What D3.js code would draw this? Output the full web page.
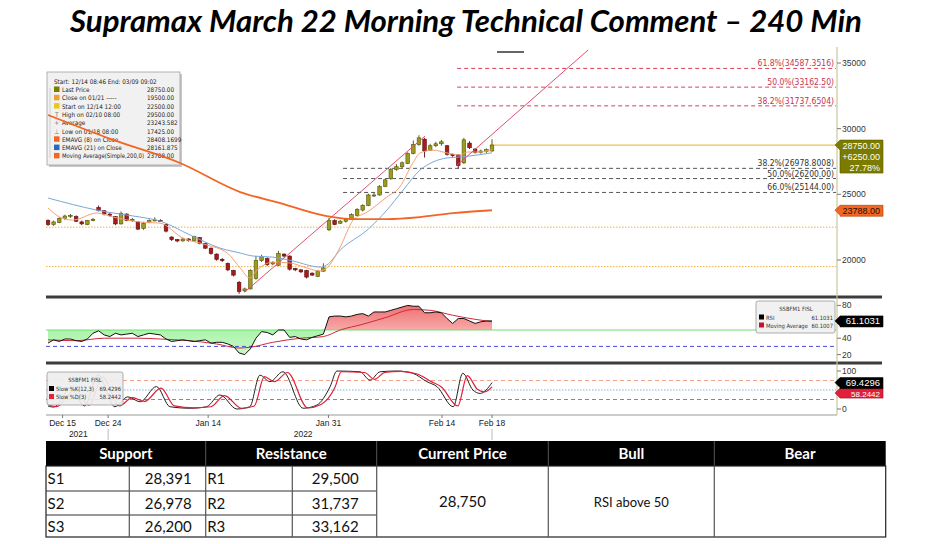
<!DOCTYPE html>
<html>
<head>
<meta charset="utf-8">
<script src="https://cdn.jsdelivr.net/npm/d3@7"></script>
<style>
  body { margin: 0; background: #fff; }
  svg { display: block; }
</style>
</head>
<body>
<svg id="chart" width="938" height="544"></svg>
<script>
// ---- data ----
const titleText = 'Supramax March 22 Morning Technical Comment \u2013 240 Min';

// 240 min candles, Dec 14 -> Feb 18
const open  = [23000,22700,22850,23150,23350,23300,22900,22700,23000,24000,23750,23500,23300,22750,23500,23000,22900,22400,22850,23000,
               23000,22700,21750,21550,21450,21600,21450,21700,21250,20900,20450,20050,19750,19200,18300,17650,17800,18600,19950,20100,
               19700,19600,20450,20300,19350,19250,19200,19000,18750,19150,22300,23000,22800,22950,23100,23400,23800,24150,24900,24950,
               25600,26200,26900,27100,27350,28100,28800,29200,28350,28700,28850,28700,28050,28000,27400,28900,28450,28200,28250,28300];
const high  = [23100,23000,23250,23450,23500,23400,23000,23050,23200,24150,23800,23550,23350,23700,23550,23200,22950,22900,23100,23250,
               23100,22750,21800,21600,21700,21650,21850,21750,21300,20950,20500,20150,19800,19250,18400,17900,19300,20300,20400,20200,
               19900,20700,20500,20350,19400,19300,19250,19050,19250,19750,23200,23100,23050,23200,23550,23950,24250,25050,25100,25700,
               26200,27000,27300,27500,28200,29100,29500,29300,28850,29000,29150,28750,28100,28050,29300,29050,28500,28400,28500,29200];
const low   = [22600,22600,22800,23050,23200,22900,22650,22650,22950,23700,23400,23300,22650,22700,22950,22900,22300,22300,22800,22950,
               22900,22100,21450,21350,21400,21400,21400,21200,20850,20400,19950,19850,19150,18750,17425,17550,17750,18500,19850,19550,
               19600,19550,20200,19200,19150,19000,18600,18800,18700,19100,22200,22650,22750,22850,23050,23350,23700,24100,24800,24900,
               25550,26100,26800,27000,27300,28050,28700,27800,28300,28600,28700,27950,27850,27000,27300,28450,28100,28100,28150,28250];
const close = [22700,22900,23150,23350,23400,22950,22750,23000,23100,23750,23500,23400,22750,23550,23000,23100,22350,22800,23000,23050,
               22950,22200,21550,21450,21600,21500,21800,21250,20900,20500,20050,19950,19250,18850,17600,17800,19200,19950,20250,19650,
               19800,20500,20300,19300,19250,19100,18700,18850,19150,19400,23000,22700,22950,23100,23450,23850,24150,24950,24950,25600,
               26100,26900,27100,27400,28100,28800,29300,28300,28700,28850,29000,28050,27950,27200,29150,28550,28200,28300,28400,28750];

// moving averages as [bar, value]
const ema8Pts = [[0,23960],[2.1,23270],[4.4,23040],[8.7,23580],[11.6,23270],[16.4,22890],[19.9,22810],[24,21670],[28.3,21140],
                 [31.9,20530],[34.2,19390],[35.9,18630],[37.2,19230],[40,19840],[43.1,19770],[46.1,19390],[48.4,19160],[49.6,19390],
                 [52,20990],[54.3,23040],[56.8,23650],[60.3,24800],[62.6,25560],[64.9,27380],[66.2,28150],[68.5,28370],[71,28150],
                 [73.3,27990],[74.6,28220],[76.9,28220],[79,28408]];
const ema21Pts = [[0,24720],[8.7,23800],[10.5,23650],[16.4,23270],[19.9,22970],[25.3,21900],[30.6,20910],[34.2,20530],[36.5,20300],
                  [40,20220],[43.6,19920],[48.4,19460],[49.6,19620],[52,20760],[57,22360],[60.3,23800],[63.2,25330],[66.2,26850],
                  [68.5,27460],[71,27770],[73.3,27840],[76.3,27990],[79,28162]];
const sma200Pts = [[0,31040],[11.6,29140],[23.5,27384],[34.2,25175],[41.3,24338],[49.6,23347],[54.3,23119],[60.3,23119],
                   [66.2,23271],[72.1,23576],[79,23788]];

// trend channel lines [bar, price]
const trendUpper = [[35,17560],[67.1,29440]];
const trendLower = [[72.8,27230],[96.1,35990]];

// retracement levels
const fibRedValues = [34587.3516, 33162.50, 31737.6504];
const fibRedLabels = ['61.8%(34587.3516)', '50.0%(33162.50)', '38.2%(31737.6504)'];
const fibRedStart = 72.8;
const fibGrayValues = [26978.8008, 26200.00, 25144.00];
const fibGrayLabels = ['38.2%(26978.8008)', '50.0%(26200.00)', '66.0%(25144.00)'];
const fibGrayStart = 52.5;
const refLevels = [22500, 19500];
const lastPrice = 28750;
const lastPriceStart = 78.6;
const priceTicks = [20000, 25000, 30000, 35000];

// legend
const legendHeader = 'Start: 12/14 08:46 End: 03/09 09:02';
const legendLabels = ['Last Price', 'Close on 01/21 -----', 'Start on 12/14 12:00', 'High on 02/10 08:00', 'Average',
                      'Low on 01/18 08:00', 'EMAVG (8)  on Close', 'EMAVG (21)  on Close', 'Moving Average(Simple,200,0)'];
const legendValues = ['28750.00', '19500.00', '22500.00', '29500.00', '23243.582', '17425.00', '28408.1699', '28161.875', '23788.00'];
const legendColors = ['#7b7b00', '#f0a030', '#e8c820', null, null, null, '#f26522', '#2a6ab8', '#f26522'];
const legendIcons  = ['', '', '', 'T', '+', '\u22A5', '', '', ''];

// RSI per bar
const rsiValues = [34,38,36,39,39,37,36,39,46,49,44,42,46,44,45,46,42,44,46,45,
                   44,39,36,37,38,37,36,37,38,34,35,35,33,30,22,20,27,40,48,47,
                   44,50,50,41,42,39,38,41,43,45,66,67,67,66,67,69,70,67,72,72,
                   72,74,76,78,80,79,79,71,71,72,71,64,58,64,64,61,58,60,61,61.1];
const rsiMaPts = [[0,38],[5,37],[10,40],[16,40],[20,39],[25,37],[30,33],[34,28],[36,29],[40,35],[45,40],[49,42],
                  [52,50],[56,57],[60,65],[65,75],[68,74],[72,68],[76,63],[79,60.1]];
const rsiTicks = [20, 40, 80];

// slow stochastics [bar, value]
const stochK = [[0,8],[1,5],[4,55],[6.5,8],[8.9,90],[11.9,6],[14.2,32],[16.4,19],[19.3,59],[21.7,6],[25.3,2],[28.2,6],
                [30.6,37],[33.6,0],[35.9,6],[37.7,89],[39.5,72],[41.8,98],[45.4,2],[47.8,10],[50.2,59],[51.4,100],[55.5,98],
                [57.3,76],[59.1,98],[62,100],[64.9,94],[67.4,72],[69.2,59],[72.1,6],[73.8,94],[75.6,50],[76.9,41],[79,69.4]];
const stochD = [[0,12],[1.5,6],[4.8,50],[7.3,10],[9.7,85],[12.7,8],[15,30],[17.2,20],[20.1,55],[22.5,8],[26,3],[29,6],
                [31.4,35],[34.4,2],[36.7,8],[38.5,85],[40.3,72],[42.6,96],[46.2,3],[48.6,12],[51,55],[52.2,98],[56.3,96],
                [58.1,78],[59.9,96],[62.8,99],[65.7,92],[68.2,72],[70,58],[72.9,8],[74.6,88],[76.4,52],[77.7,45],[79,58.2]];
const stochTicks = [0, 100];

// date axis
const dateTicks  = [2.6, 10.7, 28.5, 49.9, 70.1, 79];
const dateLabels = ['Dec 15', 'Dec 24', 'Jan 14', 'Jan 31', 'Feb 14', 'Feb 18'];
const yearTicks  = [5.4, 45.4];
const yearLabels = ['2021', '2022'];

// table
const tableHeaders = ['Support', 'Resistance', 'Current Price', 'Bull', 'Bear'];
const supportLabels = ['S1', 'S2', 'S3'];
const supportValues = ['28,391', '26,978', '26,200'];
const resistanceLabels = ['R1', 'R2', 'R3'];
const resistanceValues = ['29,500', '31,737', '33,162'];
const currentPrice = '28,750';
const bullText = 'RSI above 50';
const bearText = '';

// ---- drawing ----
const svg = d3.select('#chart');
svg.append('rect').attr('width', 938).attr('height', 544).attr('fill', '#fff');

const plotLeft = 46, plotRight = 836;
const x = d3.scaleLinear().domain([0, 79]).range([48, 492]);
const yMain = d3.scaleLinear().domain([20000, 35000]).range([260, 63]);
const yRsi = d3.scaleLinear().domain([20, 80]).range([354.6, 305.4]);
const yStoch = d3.scaleLinear().domain([0, 100]).range([409, 371]);

const smallFont = "'DejaVu Sans Condensed','DejaVu Sans',sans-serif";
const axisFont = "'Liberation Sans',Arial,sans-serif";
const tableFont = "Lato,'Open Sans',sans-serif";

const defs = svg.append('defs');
function clip(id, y0, y1) {
  defs.append('clipPath').attr('id', id).append('rect')
    .attr('x', plotLeft).attr('y', y0).attr('width', plotRight - plotLeft).attr('height', y1 - y0);
}
clip('clipMain', 45, 295);
clip('clipRsi', 299, 361);
clip('clipStoch', 365, 414);
clip('clipRsiUp', 299, yRsi(50));
clip('clipRsiDown', yRsi(50), 361);

let gradPink = defs.append('linearGradient').attr('id', 'gPink').attr('x1', 0).attr('x2', 0).attr('y1', 0).attr('y2', 1);
gradPink.append('stop').attr('offset', '0%').attr('stop-color', '#f07070');
gradPink.append('stop').attr('offset', '100%').attr('stop-color', '#fde4e4');
let gradGreen = defs.append('linearGradient').attr('id', 'gGreen').attr('x1', 0).attr('x2', 0).attr('y1', 0).attr('y2', 1);
gradGreen.append('stop').attr('offset', '0%').attr('stop-color', '#8ef08e');
gradGreen.append('stop').attr('offset', '100%').attr('stop-color', '#c8f8c8');

// title, stretched to the width it has in the picture
let title = svg.append('text').attr('x', 466).attr('y', 32).attr('text-anchor', 'middle')
  .style('font-family', tableFont).style('font-weight', 'bold').style('font-style', 'italic')
  .style('font-size', '29px').attr('fill', '#000').text(titleText);
let tw = title.node().getComputedTextLength();
title.style('font-size', (29 * 792 / tw) + 'px');

// small grey mark over the chart
svg.append('line').attr('x1', 497).attr('x2', 524).attr('y1', 52).attr('y2', 52)
  .attr('stroke', '#666').attr('stroke-width', 2);

// ---- main price panel ----
let main = svg.append('g').attr('clip-path', 'url(#clipMain)');

refLevels.forEach((v) => {
  main.append('line').attr('x1', plotLeft).attr('x2', plotRight).attr('y1', yMain(v)).attr('y2', yMain(v))
    .attr('stroke', '#f2b04a').attr('stroke-width', 1).attr('stroke-dasharray', '1.5,1.5');
});

fibRedValues.forEach((v, i) => {
  main.append('line').attr('x1', x(fibRedStart)).attr('x2', plotRight).attr('y1', yMain(v)).attr('y2', yMain(v))
    .attr('stroke', '#d9405a').attr('stroke-dasharray', '4,3');
  main.append('text').attr('x', plotRight - 2).attr('y', yMain(v) - 2).attr('text-anchor', 'end')
    .style('font-family', smallFont).style('font-size', '8.5px').attr('fill', '#c8324e').text(fibRedLabels[i]);
});
fibGrayValues.forEach((v, i) => {
  main.append('line').attr('x1', x(fibGrayStart)).attr('x2', plotRight).attr('y1', yMain(v)).attr('y2', yMain(v))
    .attr('stroke', '#555').attr('stroke-dasharray', '4,3');
  main.append('text').attr('x', plotRight - 2).attr('y', yMain(v) - 2).attr('text-anchor', 'end')
    .style('font-family', smallFont).style('font-size', '8.5px').attr('fill', '#333').text(fibGrayLabels[i]);
});

main.append('line').attr('x1', x(lastPriceStart)).attr('x2', plotRight)
  .attr('y1', yMain(lastPrice)).attr('y2', yMain(lastPrice)).attr('stroke', '#f0c24a').attr('stroke-width', 1.2);

// legend box (the 200 MA runs over it)
let lg = main.append('g');
lg.append('rect').attr('x', 49).attr('y', 74).attr('width', 133).attr('height', 93).attr('fill', '#c8c8c8');
lg.append('rect').attr('x', 47).attr('y', 72).attr('width', 133).attr('height', 93)
  .attr('fill', '#f1f1f1').attr('stroke', '#a0a0a0').attr('stroke-width', 0.8);
lg.append('text').attr('x', 54).attr('y', 84).style('font-family', smallFont).style('font-size', '6.3px')
  .attr('fill', '#222').text(legendHeader);
lg.append('line').attr('x1', 50).attr('x2', 50).attr('y1', 88).attr('y2', 158).attr('stroke', '#bbb').attr('stroke-width', 0.6);
legendLabels.forEach((lab, i) => {
  let ry = 92 + i * 8.3;
  if (legendColors[i]) {
    lg.append('rect').attr('x', 54).attr('y', ry - 5.5).attr('width', 5.5).attr('height', 5.5).attr('fill', legendColors[i]);
  } else {
    lg.append('text').attr('x', 56.7).attr('y', ry).attr('text-anchor', 'middle').style('font-family', smallFont)
      .style('font-size', '6.5px').attr('fill', '#777').text(legendIcons[i]);
  }
  let t = lg.append('text').attr('x', 62).attr('y', ry).style('font-family', smallFont).style('font-size', '6.3px')
    .attr('fill', '#222').text(lab);
  // keep the long label clear of its value
  if (t.node().getComputedTextLength() > 82) t.attr('textLength', 82).attr('lengthAdjust', 'spacingAndGlyphs');
  lg.append('text').attr('x', 147).attr('y', ry).style('font-family', smallFont).style('font-size', '6.3px')
    .attr('fill', '#222').text(legendValues[i]);
});

// candles
let candles = main.append('g');
open.forEach((o, i) => {
  let c = close[i];
  let up = c >= o;
  candles.append('line').attr('x1', x(i)).attr('x2', x(i)).attr('y1', yMain(high[i])).attr('y2', yMain(low[i]))
    .attr('stroke', up ? '#4a4a00' : '#5a0a0a').attr('stroke-width', 0.9);
  candles.append('rect').attr('x', x(i) - 1.8).attr('width', 3.6)
    .attr('y', yMain(Math.max(o, c))).attr('height', Math.max(1, Math.abs(yMain(o) - yMain(c))))
    .attr('fill', up ? '#9c9c1e' : '#a51c1c').attr('stroke', up ? '#55550a' : '#5e0c0c').attr('stroke-width', 0.6);
});

let ptLine = d3.line().x((d) => x(d[0])).y((d) => yMain(d[1])).curve(d3.curveMonotoneX);
main.append('path').attr('d', ptLine(ema21Pts)).attr('fill', 'none').attr('stroke', '#7aa7d8').attr('stroke-width', 1);
main.append('path').attr('d', ptLine(ema8Pts)).attr('fill', 'none').attr('stroke', '#f3a174').attr('stroke-width', 1);
main.append('path').attr('d', ptLine(sma200Pts)).attr('fill', 'none').attr('stroke', '#f26522').attr('stroke-width', 1.8);

let straight = d3.line().x((d) => x(d[0])).y((d) => yMain(d[1]));
[trendUpper, trendLower].forEach((t) => {
  main.append('path').attr('d', straight(t)).attr('fill', 'none').attr('stroke', '#e0506e').attr('stroke-width', 1);
});

// ---- RSI panel ----
let rsiArea = d3.area().x((d, i) => x(i)).y0(yRsi(50)).y1((d) => yRsi(d)).curve(d3.curveLinear);
svg.append('g').attr('clip-path', 'url(#clipRsiUp)').append('path').attr('d', rsiArea(rsiValues)).attr('fill', 'url(#gPink)');
svg.append('g').attr('clip-path', 'url(#clipRsiDown)').append('path').attr('d', rsiArea(rsiValues)).attr('fill', 'url(#gGreen)');

let rsiG = svg.append('g').attr('clip-path', 'url(#clipRsi)');
rsiG.append('line').attr('x1', plotLeft).attr('x2', plotRight).attr('y1', yRsi(50)).attr('y2', yRsi(50))
  .attr('stroke', '#70e070').attr('stroke-width', 1.2);
rsiG.append('line').attr('x1', plotLeft).attr('x2', plotRight).attr('y1', yRsi(30)).attr('y2', yRsi(30))
  .attr('stroke', '#4a4ad8').attr('stroke-width', 1).attr('stroke-dasharray', '4,3');
let rsiLine = d3.line().x((d, i) => x(i)).y((d) => yRsi(d));
let rsiMaLine = d3.line().x((d) => x(d[0])).y((d) => yRsi(d[1])).curve(d3.curveMonotoneX);
rsiG.append('path').attr('d', rsiMaLine(rsiMaPts)).attr('fill', 'none').attr('stroke', '#d0283a').attr('stroke-width', 1);
rsiG.append('path').attr('d', rsiLine(rsiValues)).attr('fill', 'none').attr('stroke', '#111').attr('stroke-width', 1);

// RSI legend
let rl = svg.append('g');
rl.append('rect').attr('x', 756).attr('y', 301).attr('width', 79).attr('height', 32).attr('rx', 2)
  .attr('fill', '#f1f1f1').attr('stroke', '#999').attr('stroke-width', 0.8);
rl.append('text').attr('x', 796).attr('y', 311).attr('text-anchor', 'middle').style('font-family', smallFont)
  .style('font-size', '5.8px').attr('fill', '#333').text('SSBFM1 FISL');
[['RSI', '61.1031', '#000'], ['Moving Average', '60.1007', '#c8102e']].forEach((r, i) => {
  let ry = 319.5 + i * 8;
  rl.append('rect').attr('x', 759).attr('y', ry - 5).attr('width', 5).attr('height', 5).attr('fill', r[2]);
  rl.append('text').attr('x', 766).attr('y', ry).style('font-family', smallFont).style('font-size', '5.8px').attr('fill', '#333').text(r[0]);
  rl.append('text').attr('x', 833).attr('y', ry).attr('text-anchor', 'end').style('font-family', smallFont)
    .style('font-size', '5.8px').attr('fill', '#333').text(r[1]);
});

// ---- stochastics panel ----
let stG = svg.append('g').attr('clip-path', 'url(#clipStoch)');
[[75, '#f2a488', '4,3'], [50, '#7fb8c8', '1.5,1.5'], [25, '#4fa878', '4,3']].forEach((l) => {
  stG.append('line').attr('x1', plotLeft).attr('x2', plotRight).attr('y1', yStoch(l[0])).attr('y2', yStoch(l[0]))
    .attr('stroke', l[1]).attr('stroke-dasharray', l[2]);
});
let stLine = d3.line().x((d) => x(d[0])).y((d) => yStoch(d[1])).curve(d3.curveMonotoneX);
stG.append('path').attr('d', stLine(stochK)).attr('fill', 'none').attr('stroke', '#222').attr('stroke-width', 1);
stG.append('path').attr('d', stLine(stochD)).attr('fill', 'none').attr('stroke', '#e0203a').attr('stroke-width', 1.2);

let sl = svg.append('g');
sl.append('rect').attr('x', 47).attr('y', 372).attr('width', 76).attr('height', 33).attr('rx', 2)
  .attr('fill', '#eeeeee').attr('fill-opacity', 0.92).attr('stroke', '#999').attr('stroke-width', 0.8);
sl.append('text').attr('x', 85).attr('y', 382).attr('text-anchor', 'middle').style('font-family', smallFont)
  .style('font-size', '5.8px').attr('fill', '#333').text('SSBFM1 FISL');
[['Slow %K(12,3)', '69.4296', '#000'], ['Slow %D(3)', '58.2442', '#e8203a']].forEach((r, i) => {
  let ry = 391 + i * 8;
  sl.append('rect').attr('x', 49).attr('y', ry - 5).attr('width', 5).attr('height', 5).attr('fill', r[2]);
  sl.append('text').attr('x', 56).attr('y', ry).style('font-family', smallFont).style('font-size', '5.8px').attr('fill', '#333').text(r[0]);
  sl.append('text').attr('x', 121).attr('y', ry).attr('text-anchor', 'end').style('font-family', smallFont)
    .style('font-size', '5.8px').attr('fill', '#333').text(r[1]);
});

// ---- frames and axes ----
[297, 363].forEach((yy) => {
  svg.append('line').attr('x1', plotLeft).attr('x2', 882).attr('y1', yy).attr('y2', yy)
    .attr('stroke', '#3c3c3c').attr('stroke-width', 3);
});
svg.append('line').attr('x1', plotLeft).attr('x2', 837).attr('y1', 415).attr('y2', 415).attr('stroke', '#999').attr('stroke-width', 1);
svg.append('line').attr('x1', 837).attr('x2', 837).attr('y1', 47).attr('y2', 415).attr('stroke', '#c8c89a').attr('stroke-width', 1.2);

function rightTicks(vals, scale) {
  vals.forEach((v) => {
    svg.append('line').attr('x1', 837).attr('x2', 841).attr('y1', scale(v)).attr('y2', scale(v)).attr('stroke', '#777');
    svg.append('text').attr('x', 842).attr('y', scale(v) + 3).style('font-family', axisFont).style('font-size', '8.5px')
      .attr('fill', '#333').text(v);
  });
}
rightTicks(priceTicks, yMain);
rightTicks(rsiTicks, yRsi);
rightTicks(stochTicks, yStoch);

// value tags on the right
function tag(yc, h, fill, stroke, lines, color, size) {
  let top = yc - 5, bottom = top + h;
  svg.append('path')
    .attr('d', `M835,${yc} L840,${top} L883,${top} L883,${bottom} L840,${bottom} L840,${yc + 5} Z`)
    .attr('fill', fill).attr('stroke', stroke).attr('stroke-width', 0.6);
  lines.forEach((t, i) => {
    svg.append('text').attr('x', 880).attr('y', top + 8.5 + i * 11).attr('text-anchor', 'end')
      .style('font-family', axisFont).style('font-size', size).attr('fill', color).text(t);
  });
}
tag(yMain(lastPrice), 33, '#7b7b00', '#5a5a00', ['28750.00', '+6250.00', '27.78%'], '#fff', '9px');
tag(yMain(23788), 11, '#f26522', '#a33c0c', ['23788.00'], '#2a1000', '9px');
tag(yRsi(61.1031), 11, '#000', '#000', ['61.1031'], '#fff', '9.5px');
// %D tag sits just under the %K tag so both stay readable
tag(yStoch(69.4296) + 10.5, 10, '#e0203a', '#a01020', ['58.2442'], '#fff', '8px');
tag(yStoch(69.4296), 11, '#000', '#000', ['69.4296'], '#fff', '9.5px');

// date axis
dateTicks.forEach((t, i) => {
  svg.append('line').attr('x1', x(t)).attr('x2', x(t)).attr('y1', 415).attr('y2', 418).attr('stroke', '#777');
  svg.append('text').attr('x', x(t)).attr('y', 426).attr('text-anchor', 'middle').style('font-family', axisFont)
    .style('font-size', '8.5px').attr('fill', '#222').text(dateLabels[i]);
});
yearTicks.forEach((t, i) => {
  svg.append('text').attr('x', x(t)).attr('y', 437).attr('text-anchor', 'middle').style('font-family', axisFont)
    .style('font-size', '8.5px').attr('fill', '#222').text(yearLabels[i]);
});
[10.7, 79].forEach((t) => {
  svg.append('line').attr('x1', x(t)).attr('x2', x(t)).attr('y1', 429).attr('y2', 440).attr('stroke', '#bbb');
});

// ---- table ----
const colX = [46, 129.3, 205.7, 292.3, 376.7, 548.3, 714.3, 885.7];
const rowY = [441, 466, 491, 515, 537];
let tb = svg.append('g').style('font-family', tableFont);
tb.append('rect').attr('x', colX[0]).attr('y', rowY[0]).attr('width', colX[7] - colX[0]).attr('height', rowY[1] - rowY[0]).attr('fill', '#000');
const headerCenters = [(colX[0] + colX[2]) / 2, (colX[2] + colX[4]) / 2, (colX[4] + colX[5]) / 2, (colX[5] + colX[6]) / 2, (colX[6] + colX[7]) / 2];
tableHeaders.forEach((h, i) => {
  tb.append('text').attr('x', headerCenters[i]).attr('y', rowY[0] + 18).attr('text-anchor', 'middle')
    .style('font-weight', 'bold').style('font-size', '15px').attr('fill', '#fff').text(h);
});
[colX[2], colX[4], colX[5], colX[6]].forEach((cx) => {
  tb.append('line').attr('x1', cx).attr('x2', cx).attr('y1', rowY[0]).attr('y2', rowY[1]).attr('stroke', '#555');
});
// body grid
tb.append('rect').attr('x', colX[0]).attr('y', rowY[1]).attr('width', colX[7] - colX[0]).attr('height', rowY[4] - rowY[1])
  .attr('fill', 'none').attr('stroke', '#222').attr('stroke-width', 1.2);
[rowY[2], rowY[3]].forEach((ry) => {
  tb.append('line').attr('x1', colX[0]).attr('x2', colX[4]).attr('y1', ry).attr('y2', ry).attr('stroke', '#333');
});
colX.slice(1, 7).forEach((cx) => {
  tb.append('line').attr('x1', cx).attr('x2', cx).attr('y1', rowY[1]).attr('y2', rowY[4]).attr('stroke', '#555').attr('stroke-width', 1.2);
});
supportLabels.forEach((s, i) => {
  let ty = (rowY[i + 1] + rowY[i + 2]) / 2 + 5.5;
  tb.append('text').attr('x', colX[0] + 1.5).attr('y', ty).style('font-size', '15px').attr('fill', '#111').text(s);
  tb.append('text').attr('x', colX[2] - 14).attr('y', ty).attr('text-anchor', 'end').style('font-size', '15px').attr('fill', '#111').text(supportValues[i]);
  tb.append('text').attr('x', colX[2] + 1.5).attr('y', ty).style('font-size', '15px').attr('fill', '#111').text(resistanceLabels[i]);
  tb.append('text').attr('x', colX[4] - 18).attr('y', ty).attr('text-anchor', 'end').style('font-size', '15px').attr('fill', '#111').text(resistanceValues[i]);
});
let midY = (rowY[1] + rowY[4]) / 2 + 5.5;
tb.append('text').attr('x', headerCenters[2]).attr('y', midY).attr('text-anchor', 'middle').style('font-size', '15px').attr('fill', '#111').text(currentPrice);
tb.append('text').attr('x', headerCenters[3]).attr('y', midY).attr('text-anchor', 'middle').style('font-size', '13px').attr('fill', '#111').text(bullText);
tb.append('text').attr('x', headerCenters[4]).attr('y', midY).attr('text-anchor', 'middle').style('font-size', '13px').attr('fill', '#111').text(bearText);
</script>
</body>
</html>
